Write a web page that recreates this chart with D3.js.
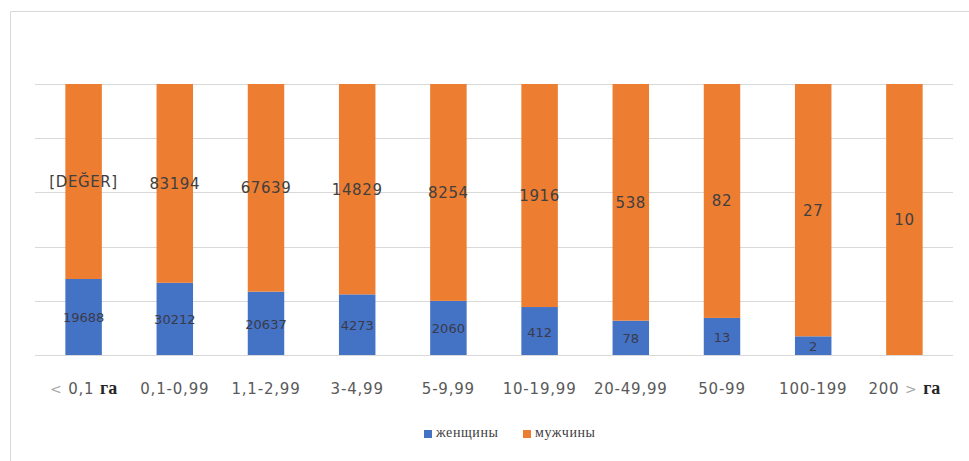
<!DOCTYPE html>
<html><head><meta charset="utf-8">
<script src="https://cdn.jsdelivr.net/npm/d3@7"></script>
<style>body{margin:0;background:#fff}svg{display:block}</style>
</head><body>
<svg id="c" width="969" height="461"></svg>
<script>
const categories = ["< 0,1 га","0,1-0,99","1,1-2,99","3-4,99","5-9,99","10-19,99","20-49,99","50-99","100-199","200 > га"];
const women = [19688,30212,20637,4273,2060,412,78,13,2,0];
const men = [50500,83194,67639,14829,8254,1916,538,82,27,10];
const womenLabels = ["19688","30212","20637","4273","2060","412","78","13","2",""];
const menLabels = ["[DEĞER]","83194","67639","14829","8254","1916","538","82","27","10"];
const seriesNames = ["женщины","мужчины"];
const yTicks = [0,0.2,0.4,0.6,0.8,1];

const colors = ["#4472C4","#ED7D31"];
const svg = d3.select("#c");
const plotL = 38, plotR = 950, plotT = 84, plotB = 355;

// frame
svg.append("path").attr("d","M10.5,461 V11.5 H969").attr("fill","none").attr("stroke","#d9d9d9").attr("stroke-width",1);

const x = d3.scaleBand().domain(categories).range([plotL,plotR]).paddingInner(0.6).paddingOuter(0.3);
const y = d3.scaleLinear().domain([0,1]).range([plotB,plotT]);

svg.append("g").selectAll("line").data(yTicks).join("line")
  .attr("x1",35).attr("x2",953)
  .attr("y1",d=>Math.round(y(d))+0.5).attr("y2",d=>Math.round(y(d))+0.5)
  .attr("stroke","#d9d9d9").attr("stroke-width",1);

const data = categories.map((c,i)=>{
  const t = women[i]+men[i];
  return {c, w: women[i]/t, m: men[i]/t, wl: womenLabels[i], ml: menLabels[i]};
});

const g = svg.append("g");
g.selectAll("rect.w").data(data).join("rect").attr("class","w")
  .attr("x",d=>x(d.c)).attr("width",x.bandwidth())
  .attr("y",d=>y(d.w)).attr("height",d=>y(0)-y(d.w)).attr("fill",colors[0]);
g.selectAll("rect.m").data(data).join("rect").attr("class","m")
  .attr("x",d=>x(d.c)).attr("width",x.bandwidth())
  .attr("y",d=>y(1)).attr("height",d=>y(d.w)-y(1)).attr("fill",colors[1]);

g.selectAll("text.wl").data(data.filter(d=>d.wl)).join("text").attr("class","wl")
  .attr("x",d=>x(d.c)+x.bandwidth()/2).attr("y",d=>(y(d.w)+y(0))/2+2)
  .attr("text-anchor","middle").attr("dominant-baseline","middle")
  .attr("font-family","DejaVu Sans").attr("font-size",13).attr("fill","#3a3a4a")
  .text(d=>d.wl);
g.selectAll("text.ml").data(data).join("text").attr("class","ml")
  .attr("x",d=>x(d.c)+x.bandwidth()/2).attr("y",d=>(y(1)+y(d.w))/2+1)
  .attr("text-anchor","middle").attr("dominant-baseline","middle")
  .attr("font-family","DejaVu Sans").attr("font-size",15).attr("letter-spacing",0.6).attr("fill","#404040")
  .text(d=>d.ml);

// category labels
const xl = svg.append("g").selectAll("text").data(categories).join("text")
  .attr("x",d=>x(d)+x.bandwidth()/2).attr("y",394)
  .attr("text-anchor","middle")
  .attr("font-family","DejaVu Sans").attr("font-size",15).attr("letter-spacing",0.8).attr("fill","#595959");
xl.each(function(d){
  const t = d3.select(this);
  const parts = d.split(/(<|>|га)/).filter(s=>s.length);
  parts.forEach(p=>{
    const s = t.append("tspan").text(p);
    if(p==="га") s.attr("font-family","Liberation Serif").attr("font-weight","bold").attr("font-size",18).attr("letter-spacing",0).attr("fill","#262626");
    else if(p==="<"||p===">") s.attr("fill","#a6a6a6").attr("font-size",14);
  });
});

// legend
const lg = svg.append("g").attr("transform","translate(424,434)");
const items = [{n:seriesNames[0],c:colors[0],x:0},{n:seriesNames[1],c:colors[1],x:99}];
items.forEach(it=>{
  lg.append("rect").attr("x",it.x).attr("y",-4).attr("width",8).attr("height",8).attr("fill",it.c);
  lg.append("text").attr("x",it.x+12).attr("y",0).attr("dominant-baseline","middle")
    .attr("font-family","Liberation Serif").attr("font-size",14).attr("letter-spacing",0.6).attr("fill","#404040").text(it.n);
});
</script>
</body></html>
